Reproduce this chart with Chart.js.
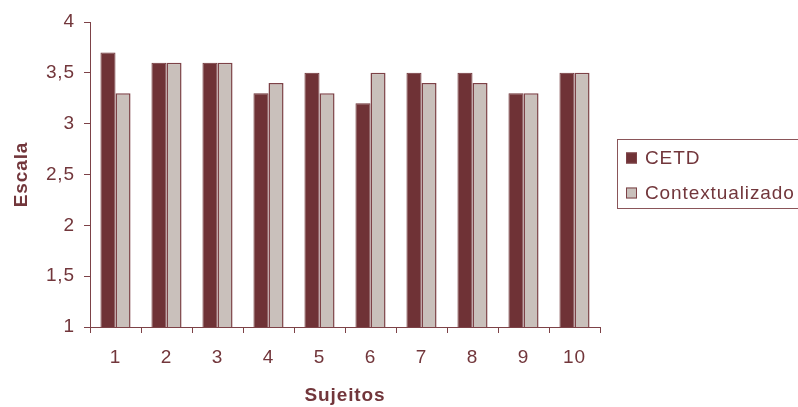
<!DOCTYPE html>
<html>
<head>
<meta charset="utf-8">
<script src="https://cdn.jsdelivr.net/npm/chart.js@4/dist/chart.umd.min.js"></script>
<style>
  html, body { margin: 0; padding: 0; background: #ffffff; }
  #wrap { width: 798px; height: 407px; }
</style>
</head>
<body>
<div id="wrap"><canvas id="c" width="798" height="407"></canvas></div>
<script>
// Escala por sujeito, duas condições
const sujeitos = ['1', '2', '3', '4', '5', '6', '7', '8', '9', '10'];
const cetd = [3.7, 3.6, 3.6, 3.3, 3.5, 3.2, 3.5, 3.5, 3.3, 3.5];
const contextualizado = [3.3, 3.6, 3.6, 3.4, 3.3, 3.5, 3.4, 3.4, 3.3, 3.5];
const serieNomes = ['CETD', 'Contextualizado'];

const TEXT = '#72363b';
const AXIS = '#7d4247';
const DARK = '#6f3236';
const LIGHT = '#c9c0bb';
const SPACING = '0.9px';
const FS = 19;

Chart.defaults.font.family = '"Liberation Sans", Arial, sans-serif';
Chart.defaults.color = TEXT;

// Espaçamento entre letras um pouco mais largo em todos os textos
const espacamento = {
  id: 'espacamento',
  beforeDraw(chart) {
    chart.ctx.letterSpacing = SPACING;
  }
};

// Caixa de legenda à direita, com moldura
const legendaCaixa = {
  id: 'legendaCaixa',
  afterDraw(chart) {
    const ctx = chart.ctx;
    ctx.save();
    ctx.letterSpacing = SPACING;
    ctx.strokeStyle = '#8a5559';
    ctx.lineWidth = 1;
    ctx.strokeRect(617.5, 139.5, 190, 69);
    const rows = [158, 193];
    chart.data.datasets.forEach((ds, i) => {
      const cy = rows[i];
      ctx.fillStyle = ds.backgroundColor;
      ctx.fillRect(626, cy - 5.5, 11, 11);
      ctx.strokeStyle = AXIS;
      ctx.strokeRect(626.5, cy - 5, 10, 10);
      ctx.fillStyle = TEXT;
      ctx.font = FS + 'px "Liberation Sans", Arial, sans-serif';
      ctx.textBaseline = 'middle';
      ctx.textAlign = 'left';
      ctx.fillText(ds.label, 645, cy + 1);
    });
    ctx.restore();
  }
};

new Chart(document.getElementById('c'), {
  type: 'bar',
  data: {
    labels: sujeitos,
    datasets: [
      {
        label: serieNomes[0],
        data: cetd,
        backgroundColor: DARK,
        borderColor: DARK,
        borderWidth: 1,
        categoryPercentage: 0.59,
        barPercentage: 1.0
      },
      {
        label: serieNomes[1],
        data: contextualizado,
        backgroundColor: LIGHT,
        borderColor: AXIS,
        borderWidth: 1.5,
        categoryPercentage: 0.59,
        barPercentage: 1.0
      }
    ]
  },
  options: {
    responsive: false,
    animation: false,
    layout: { padding: { left: 0, right: 198, top: 22, bottom: 0 } },
    plugins: {
      legend: { display: false },
      tooltip: { enabled: false }
    },
    scales: {
      x: {
        grid: {
          display: true,
          drawOnChartArea: false,
          drawTicks: true,
          tickLength: 6,
          color: AXIS,
          offset: true
        },
        border: { display: true, color: AXIS, width: 1 },
        ticks: {
          color: TEXT,
          font: { size: FS },
          padding: 13,
          maxRotation: 0
        },
        title: {
          display: true,
          text: 'Sujeitos',
          color: TEXT,
          font: { size: FS, weight: 'bold' },
          padding: { top: 0, bottom: 0 }
        },
        afterFit(scale) { scale.height = 80; }
      },
      y: {
        min: 1,
        max: 4,
        grid: {
          display: true,
          drawOnChartArea: false,
          drawTicks: true,
          tickLength: 6,
          color: AXIS
        },
        border: { display: true, color: AXIS, width: 1 },
        ticks: {
          stepSize: 0.5,
          color: TEXT,
          font: { size: FS },
          padding: 9,
          callback: (v) => String(v).replace('.', ',')
        },
        title: {
          display: true,
          text: 'Escala',
          color: TEXT,
          font: { size: FS, weight: 'bold' },
          padding: { top: 10, bottom: 0 }
        },
        afterFit(scale) { scale.width = 90; }
      }
    }
  },
  plugins: [espacamento, legendaCaixa]
});
</script>
</body>
</html>
